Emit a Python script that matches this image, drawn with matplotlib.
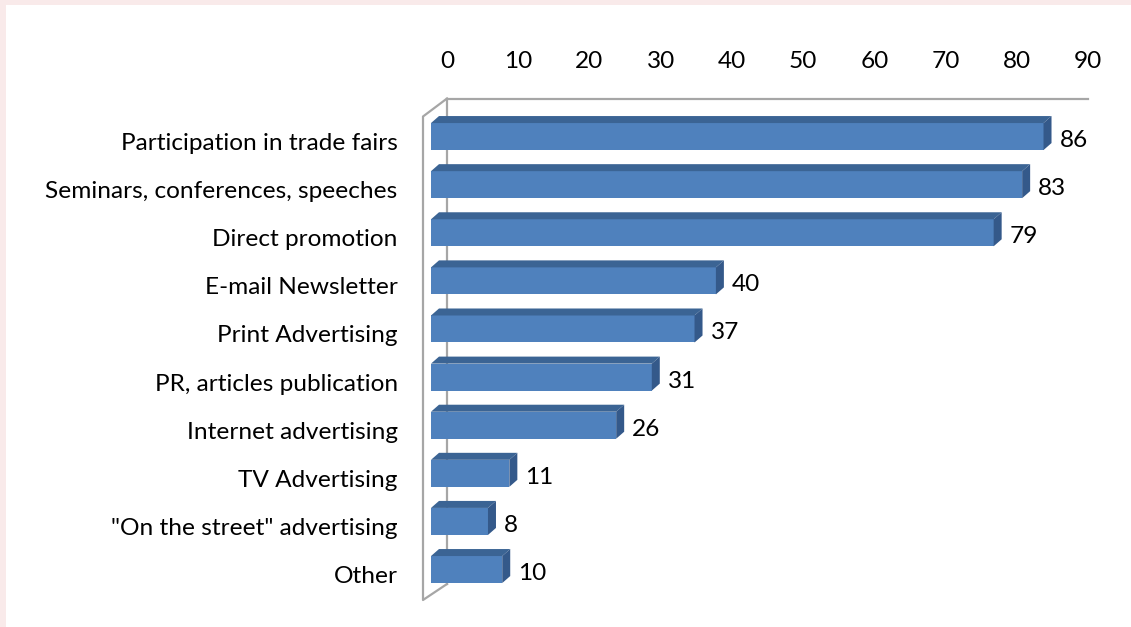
import matplotlib
matplotlib.use("Agg")
import matplotlib.pyplot as plt
from matplotlib.patches import Polygon, Rectangle
from matplotlib import transforms

categories = [
    "Participation in trade fairs",
    "Seminars, conferences, speeches",
    "Direct promotion",
    "E-mail Newsletter",
    "Print Advertising",
    "PR, articles publication",
    "Internet advertising",
    "TV Advertising",
    "\"On the street\" advertising",
    "Other",
]
values = [86, 83, 79, 40, 37, 31, 26, 11, 8, 10]
ticks = list(range(0, 100, 10))

FRONT = "#4F81BD"
TOP = "#3B6494"
SIDE = "#34598A"
WALL = "#A6A6A6"
FONT = "Lato"
FS = 17.6

W, H, DPI = 1131, 627, 100
fig = plt.figure(figsize=(W / DPI, H / DPI), dpi=DPI)
fig.patch.set_facecolor("#F9EAEA")
fig.patches.append(Rectangle((6 / W, 0), 1, 1 - 5 / H, transform=fig.transFigure,
                             facecolor="white", edgecolor="none", zorder=-5))

# back wall: holds the value axis (ticks on top)
back = fig.add_axes([447 / W, 1 - 584 / H, 641 / W, 485.5 / H])
back.set_xlim(0, 90)
back.set_ylim(0, 1)
back.patch.set_alpha(0)
for s in ["right", "bottom"]:
    back.spines[s].set_visible(False)
for s in ["top", "left"]:
    back.spines[s].set_color(WALL)
    back.spines[s].set_linewidth(1.6)
back.set_yticks([])
back.xaxis.tick_top()
back.set_xticks(ticks)
back.tick_params(axis="x", length=0, pad=19, labelsize=FS)
for lab in back.get_xticklabels():
    lab.set_fontfamily(FONT)

# side wall / floor edge, drawn 24px in front of the back wall
px_x = 90 / 641
bt = transforms.blended_transform_factory(back.transData, back.transAxes)
dx = -24 * px_x
back.plot([0, dx, dx, 0], [1, 1 - 18 / 485.5, -16 / 485.5, 0],
          color=WALL, lw=1.6, transform=bt, clip_on=False)

# bars: front plane
ax = fig.add_axes([431 / W, 1 - 593.6 / H, 641 / W, 481.1 / H])
ax.set_xlim(0, 90)
ax.set_ylim(len(categories) - 0.5, -0.5)
ax.patch.set_alpha(0)
for s in ax.spines.values():
    s.set_visible(False)
ax.set_xticks([])

h = 27 / 48.1
ddx = 8 * px_x
ddy = 7 / 48.1
for i, v in enumerate(values):
    y0, y1 = i - h / 2, i + h / 2
    ax.barh(i, v, height=h, color=FRONT, edgecolor="none", zorder=3)
    ax.add_patch(Polygon([(0, y0), (v, y0), (v + ddx, y0 - ddy), (ddx, y0 - ddy)],
                         closed=True, facecolor=TOP, edgecolor="none", zorder=3))
    ax.add_patch(Polygon([(v, y0), (v + ddx, y0 - ddy), (v + ddx, y1 - ddy), (v, y1)],
                         closed=True, facecolor=SIDE, edgecolor="none", zorder=3))
    ax.text(v, i, str(v), transform=transforms.offset_copy(ax.transData, fig, x=16, y=-4, units="dots"),
            ha="left", va="center", fontsize=FS, family=FONT, color="black")

ax.set_yticks(range(len(categories)))
ax.set_yticklabels(categories)
ax.tick_params(axis="y", length=0, pad=24, labelsize=FS)
shift = transforms.ScaledTranslation(0, -5 / DPI, fig.dpi_scale_trans)
for lab in ax.get_yticklabels():
    lab.set_fontfamily(FONT)
    lab.set_transform(lab.get_transform() + shift)

fig.savefig("out.png", dpi=DPI)
